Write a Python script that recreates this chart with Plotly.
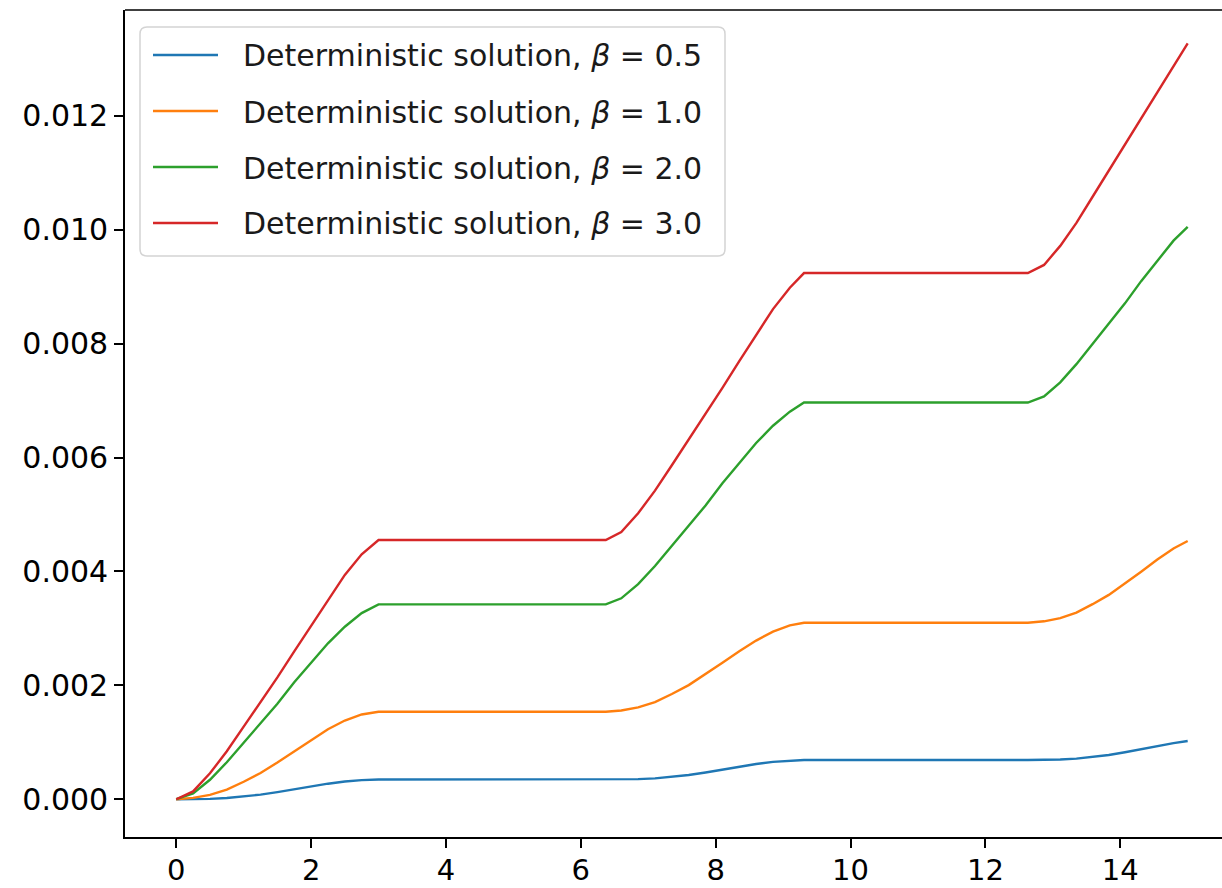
import plotly.graph_objects as go

# ---- data ----
t = [0.0, 0.25, 0.5, 0.75, 1.0, 1.25, 1.5, 1.75, 2.0, 2.25, 2.5, 2.75, 3.0,
     6.37, 6.6, 6.85, 7.1, 7.35, 7.6, 7.85, 8.1, 8.35, 8.6, 8.85, 9.1, 9.31,
     12.63, 12.87, 13.11, 13.35, 13.59, 13.83, 14.07, 14.31, 14.55, 14.79, 15.0]

beta_05 = [0.0, 0.000002, 0.000007, 0.000021, 0.000045, 0.000080, 0.000125, 0.000177, 0.000228, 0.000273, 0.000311, 0.000336, 0.000346,
           0.000346, 0.000348, 0.000353, 0.000367, 0.000391, 0.000425, 0.000470, 0.000521, 0.000573, 0.000618, 0.000656, 0.000680, 0.000690,
           0.000690, 0.000692, 0.000698, 0.000713, 0.000739, 0.000776, 0.000825, 0.000881, 0.000938, 0.000986, 0.001022]

beta_10 = [0.0, 0.000023, 0.000077, 0.000169, 0.000307, 0.000461, 0.000645, 0.000844, 0.001044, 0.001228, 0.001382, 0.001489, 0.001535,
           0.001535, 0.001559, 0.001613, 0.001707, 0.001848, 0.002004, 0.002192, 0.002395, 0.002599, 0.002786, 0.002943, 0.003052, 0.003099,
           0.003099, 0.003124, 0.003181, 0.003278, 0.003425, 0.003588, 0.003784, 0.003996, 0.004208, 0.004404, 0.004534]

beta_20 = [0.0, 0.000103, 0.000342, 0.000650, 0.000992, 0.001335, 0.001677, 0.002053, 0.002395, 0.002738, 0.003029, 0.003268, 0.003422,
           0.003422, 0.003528, 0.003776, 0.004095, 0.004450, 0.004804, 0.005158, 0.005548, 0.005902, 0.006256, 0.006558, 0.006806, 0.006965,
           0.006965, 0.007072, 0.007320, 0.007640, 0.007996, 0.008351, 0.008707, 0.009097, 0.009453, 0.009808, 0.010050]

beta_30 = [0.0, 0.000137, 0.000455, 0.000842, 0.001275, 0.001707, 0.002139, 0.002595, 0.003050, 0.003505, 0.003938, 0.004302, 0.004552,
           0.004552, 0.004693, 0.005021, 0.005419, 0.005864, 0.006310, 0.006755, 0.007224, 0.007692, 0.008161, 0.008606, 0.008981, 0.009239,
           0.009239, 0.009382, 0.009716, 0.010121, 0.010579, 0.011037, 0.011495, 0.011953, 0.012411, 0.012869, 0.013270]

series_names = ["Deterministic solution, <i>β</i> = 0.5",
                "Deterministic solution, <i>β</i> = 1.0",
                "Deterministic solution, <i>β</i> = 2.0",
                "Deterministic solution, <i>β</i> = 3.0"]
series_values = [beta_05, beta_10, beta_20, beta_30]
colors = ["#1f77b4", "#ff7f0e", "#2ca02c", "#d62728"]

x_ticks = [0, 2, 4, 6, 8, 10, 12, 14]
y_ticks = [0.000, 0.002, 0.004, 0.006, 0.008, 0.010, 0.012]
y_tick_labels = ["0.000", "0.002", "0.004", "0.006", "0.008", "0.010", "0.012"]

# ---- layout geometry (pixels) ----
W, H = 1222, 888
L, R, T, B = 125, 0, 10, 51
PW, PH = W - L - R, H - T - B
FONT = "DejaVu Sans"
FS = 30


def px(xp):
    return (xp - L) / PW


def py(yp):
    return (H - B - yp) / PH


fig = go.Figure()
for name, vals, col in zip(series_names, series_values, colors):
    fig.add_trace(go.Scatter(x=t, y=vals, mode="lines", name=name,
                             line=dict(color=col, width=2.4), showlegend=False))

axis_common = dict(showgrid=False, zeroline=False, showline=True, linecolor="black",
                   linewidth=1.6, ticks="outside", ticklen=9, tickwidth=1.6, automargin=False,
                   tickcolor="black")

fig.update_xaxes(range=[-0.760, 15.509], tickvals=x_ticks, ticklabelstandoff=-3,
                 tickfont=dict(family=FONT, size=FS - 1, color="black"), **axis_common)
fig.update_yaxes(range=[-0.000663, 0.013858], tickvals=y_ticks, ticktext=y_tick_labels,
                 tickfont=dict(family=FONT, size=FS, color="black"), **axis_common)

shapes = [
    # top spine
    dict(type="line", xref="paper", yref="paper", x0=0, x1=1, y0=1, y1=1,
         line=dict(color="black", width=1.6)),
]
# legend frame (rounded)
x0, x1, y0, y1, r = 140, 725, 27, 256, 7
path = (f"M{px(x0 + r)},{py(y0)} L{px(x1 - r)},{py(y0)} Q{px(x1)},{py(y0)} {px(x1)},{py(y0 + r)} "
        f"L{px(x1)},{py(y1 - r)} Q{px(x1)},{py(y1)} {px(x1 - r)},{py(y1)} "
        f"L{px(x0 + r)},{py(y1)} Q{px(x0)},{py(y1)} {px(x0)},{py(y1 - r)} "
        f"L{px(x0)},{py(y0 + r)} Q{px(x0)},{py(y0)} {px(x0 + r)},{py(y0)} Z")
shapes.append(dict(type="path", xref="paper", yref="paper", path=path,
                   fillcolor="rgba(255,255,255,0.8)", line=dict(color="#d4d4d4", width=1.5)))

annotations = []
rows = [55, 111, 167, 223]
for name, col, ry in zip(series_names, colors, rows):
    shapes.append(dict(type="line", xref="paper", yref="paper", x0=px(153), x1=px(218),
                       y0=py(ry), y1=py(ry), line=dict(color=col, width=2.4)))
    annotations.append(dict(text=name, xref="paper", yref="paper", x=px(241), y=py(ry + 1),
                            xanchor="left", yanchor="middle", showarrow=False,
                            font=dict(family=FONT, size=FS, color="#1a1a1a")))

fig.update_layout(width=W, height=H, margin=dict(l=L, r=R, t=T, b=B, pad=0, autoexpand=False),
                  paper_bgcolor="white", plot_bgcolor="white",
                  shapes=shapes, annotations=annotations, showlegend=False)

fig.write_html("out.html")
